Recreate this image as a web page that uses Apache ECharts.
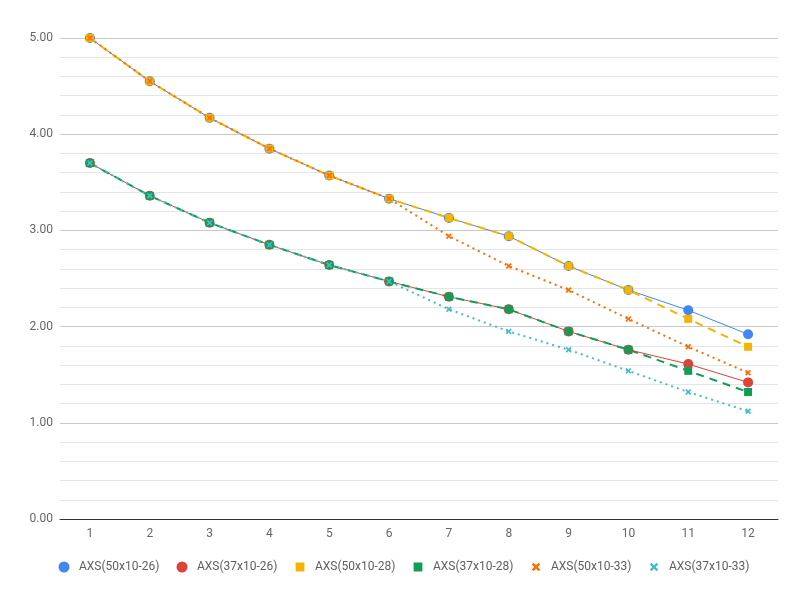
<!DOCTYPE html>
<html>
<head>
<meta charset="utf-8">
<script src="https://cdn.jsdelivr.net/npm/echarts@6/dist/echarts.min.js"></script>
<style>html,body{margin:0;padding:0;background:#fff}#c{width:808px;height:605px}</style>
</head>
<body>
<div id="c"></div>
<script>
var categories = ['1','2','3','4','5','6','7','8','9','10','11','12'];
var s50x26 = [5.00, 4.55, 4.17, 3.85, 3.57, 3.33, 3.13, 2.94, 2.63, 2.38, 2.17, 1.92];
var s37x26 = [3.70, 3.36, 3.08, 2.85, 2.64, 2.47, 2.31, 2.18, 1.95, 1.76, 1.61, 1.42];
var s50x28 = [5.00, 4.55, 4.17, 3.85, 3.57, 3.33, 3.13, 2.94, 2.63, 2.38, 2.08, 1.79];
var s37x28 = [3.70, 3.36, 3.08, 2.85, 2.64, 2.47, 2.31, 2.18, 1.95, 1.76, 1.54, 1.32];
var s50x33 = [5.00, 4.55, 4.17, 3.85, 3.57, 3.33, 2.94, 2.63, 2.38, 2.08, 1.79, 1.52];
var s37x33 = [3.70, 3.36, 3.08, 2.85, 2.64, 2.47, 2.18, 1.95, 1.76, 1.54, 1.32, 1.12];
var names = ['AXS(50x10-26)','AXS(37x10-26)','AXS(50x10-28)','AXS(37x10-28)','AXS(50x10-33)','AXS(37x10-33)'];

var X = 'path://M2,0 L5,3 L8,0 L10,2 L7,5 L10,8 L8,10 L5,7 L2,10 L0,8 L3,5 L0,2 Z';
var XL = 'path://M-1.5,-1.5L-1.5,-1.5Z M11.5,11.5L11.5,11.5Z M2,0 L5,3 L8,0 L10,2 L7,5 L10,8 L8,10 L5,7 L2,10 L0,8 L3,5 L0,2 Z';
var SQL = 'path://M0,0L0,0Z M10,10L10,10Z M1,1 L9,1 L9,9 L1,9 Z';
var FONT = 'Roboto';

function mk(name, data, color, symbol, size, width, type) {
  return {
    name: name, type: 'line', data: data,
    symbol: symbol, symbolSize: size, showAllSymbol: true,
    itemStyle: {color: color},
    lineStyle: {color: color, width: width, type: type},
    emphasis: {disabled: true}
  };
}

var chart = echarts.init(document.getElementById('c'));
chart.setOption({
  animation: false,
  backgroundColor: '#fff',
  grid: {left: 60, right: 30, top: 38, bottom: 86},
  legend: {
    bottom: 27, left: 'center', itemGap: 17, itemWidth: 20, itemHeight: 11,
    textStyle: {color: '#5f5f5f', fontSize: 12, fontFamily: FONT},
    data: [
      {name: names[0], icon: 'circle'},
      {name: names[1], icon: 'circle'},
      {name: names[2], icon: SQL},
      {name: names[3], icon: SQL},
      {name: names[4], icon: XL},
      {name: names[5], icon: XL}
    ]
  },
  xAxis: {
    type: 'category', data: categories, boundaryGap: true,
    axisLine: {show: true, lineStyle: {color: '#333', width: 1}},
    axisTick: {show: false},
    axisLabel: {color: '#666', fontSize: 12, fontFamily: FONT, margin: 9},
    splitLine: {show: false}
  },
  yAxis: {
    type: 'value', min: 0, max: 5, interval: 1,
    axisLine: {show: false}, axisTick: {show: false},
    axisLabel: {color: '#666', fontSize: 12, fontFamily: FONT, margin: 7,
      formatter: function (v) { return v.toFixed(2); }},
    splitLine: {lineStyle: {color: '#c8c8c8', width: 1}},
    minorTick: {show: false, splitNumber: 5},
    minorSplitLine: {show: true, lineStyle: {color: '#e5e5e5', width: 1}}
  },
  series: [
    mk(names[0], s50x26, '#4285F4', 'circle', 10, 1, 'solid'),
    mk(names[1], s37x26, '#DB4437', 'circle', 10, 1, 'solid'),
    mk(names[2], s50x28, '#F4B400', 'rect', 8, 2, [8, 6]),
    mk(names[3], s37x28, '#0F9D58', 'rect', 8, 2, [8, 6]),
    mk(names[4], s50x33, '#FF6D00', X, 6, 2, [2, 4]),
    mk(names[5], s37x33, '#46BDC6', X, 6, 2, [2, 4])
  ]
});
</script>
</body>
</html>
